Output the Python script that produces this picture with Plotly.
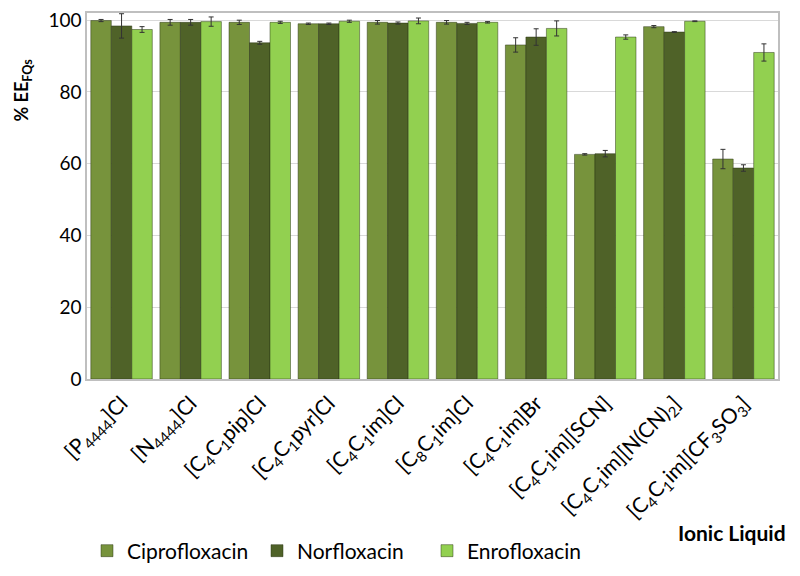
import plotly.graph_objects as go

categories = ["[P<sub>4444</sub>]Cl", "[N<sub>4444</sub>]Cl", "[C<sub>4</sub>C<sub>1</sub>pip]Cl",
              "[C<sub>4</sub>C<sub>1</sub>pyr]Cl", "[C<sub>4</sub>C<sub>1</sub>im]Cl", "[C<sub>8</sub>C<sub>1</sub>im]Cl",
              "[C<sub>4</sub>C<sub>1</sub>im]Br", "[C<sub>4</sub>C<sub>1</sub>im][SCN]",
              "[C<sub>4</sub>C<sub>1</sub>im][N(CN)<sub>2</sub>]", "[C<sub>4</sub>C<sub>1</sub>im][CF<sub>3</sub>SO<sub>3</sub>]"]

cipro = [99.9, 99.4, 99.4, 99.0, 99.4, 99.4, 93.1, 62.6, 98.2, 61.3]
cipro_err = [0.3, 0.8, 0.6, 0.2, 0.5, 0.5, 2.0, 0.2, 0.3, 2.7]
norflox = [98.4, 99.4, 93.7, 99.0, 99.2, 99.1, 95.3, 62.8, 96.7, 58.8]
norflox_err = [3.4, 0.8, 0.4, 0.2, 0.3, 0.3, 2.3, 0.9, 0.1, 0.9]
enro = [97.4, 99.6, 99.4, 99.7, 99.8, 99.4, 97.7, 95.3, 99.7, 91.0]
enro_err = [0.8, 1.3, 0.3, 0.3, 0.8, 0.2, 2.1, 0.6, 0.1, 2.4]

series = [("Ciprofloxacin", cipro, cipro_err, "#77933C"),
          ("Norfloxacin", norflox, norflox_err, "#4F6228"),
          ("Enrofloxacin", enro, enro_err, "#92D050")]

FONT = "Lato"
fig = go.Figure()
for name, vals, errs, col in series:
    fig.add_trace(go.Bar(
        x=categories, y=vals, name=name,
        marker=dict(color=col, line=dict(color="rgba(40,50,20,0.6)", width=0.8)),
        error_y=dict(type="data", array=errs, visible=True, color="#333333", thickness=1, width=2.5),
    ))

fig.update_layout(
    width=800, height=576,
    barmode="group", bargap=0.11, bargroupgap=0,
    plot_bgcolor="white", paper_bgcolor="white",
    margin=dict(l=79, r=30, t=5, b=205),
    font=dict(family=FONT, size=19, color="#000000"),
    showlegend=True,
    legend=dict(orientation="h", x=0.0, xanchor="left", y=-0.47, yanchor="middle",
                font=dict(family=FONT, size=21), itemwidth=30, traceorder="normal",
                entrywidth=125),
    xaxis=dict(tickangle=-45, showline=True, linecolor="#BFBFBF", linewidth=1.5, mirror=True,
               ticks="", tickfont=dict(family=FONT, size=21), automargin=False,
               ticklabelstandoff=2),
    yaxis=dict(range=[0, 102], tickvals=[0, 20, 40, 60, 80, 100], showgrid=True, gridcolor="#D9D9D9",
               showline=True, linecolor="#BFBFBF", linewidth=1.5, mirror=True, zeroline=False,
               ticks="", ticksuffix="\u00a0\u00a0\u00a0", ticklabeloverflow="allow",
               tickfont=dict(family=FONT, size=19), automargin=False),
    annotations=[
        dict(text="<b>% EE<sub>FQs</sub></b>", xref="paper", yref="paper", x=-0.093, y=0.79,
             xanchor="center", yanchor="middle", textangle=-90, showarrow=False,
             font=dict(family=FONT, size=18)),
        dict(text="<b>Ionic Liquid</b>", xref="paper", yref="paper", x=1.0145, y=-0.42,
             xanchor="right", yanchor="middle", showarrow=False,
             font=dict(family=FONT, size=21)),
    ],
)

fig.write_html("out.html")
